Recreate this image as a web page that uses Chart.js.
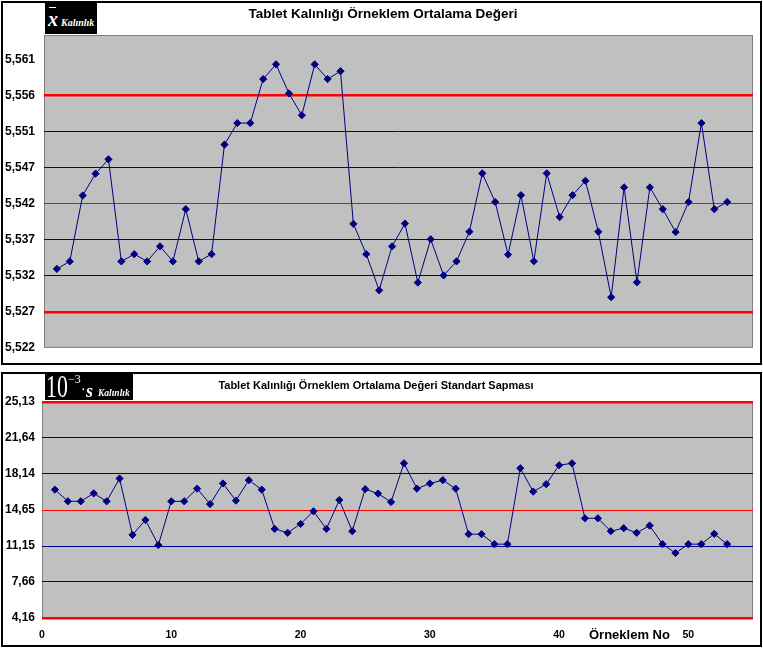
<!DOCTYPE html>
<html><head><meta charset="utf-8">
<script src="https://cdn.jsdelivr.net/npm/chart.js@4/dist/chart.umd.min.js"></script>
<style>
body{margin:0;background:#fff;width:763px;height:649px;position:relative;overflow:hidden;font-family:'Liberation Sans',Arial,sans-serif;}
.box{position:absolute;border:2px solid #000;box-sizing:border-box;}
canvas{position:absolute;left:0;}
.title{position:absolute;font-weight:bold;white-space:nowrap;color:#000;}
.blk{position:absolute;background:#000;}
.w{position:absolute;color:#fff;font-family:'Liberation Serif','Times New Roman',serif;white-space:nowrap;}
</style></head>
<body>
<div class="box" style="left:1px;top:1px;width:761px;height:364px"></div>
<div class="box" style="left:1px;top:372px;width:761px;height:275px"></div>
<canvas id="c1" width="763" height="364" style="top:0;width:763px;height:364px"></canvas>
<canvas id="c2" width="763" height="285" style="top:364px;width:763px;height:285px"></canvas>

<div class="title" style="left:0;width:766px;text-align:center;top:6.6px;font-size:13.5px;line-height:14px">Tablet Kalınlığı Örneklem Ortalama Değeri</div>
<div class="title" style="left:0;width:752px;text-align:center;top:378.5px;font-size:11px;line-height:12px">Tablet Kalınlığı Örneklem Ortalama Değeri Standart Sapması</div>
<div class="title" style="left:589px;top:628px;font-size:13px;line-height:13px">Örneklem No</div>

<div class="blk" style="left:45px;top:2px;width:52px;height:32px"></div>
<div style="position:absolute;left:49px;top:7px;width:7px;height:1px;background:#fff"></div>
<span class="w" style="left:48px;top:8.5px;font-size:20px;line-height:20px;font-style:italic;font-weight:bold">x</span>
<span class="w" style="left:61px;top:18.1px;font-size:10px;line-height:10px;font-style:italic;font-weight:bold">Kalınlık</span>

<div class="blk" style="left:45px;top:374px;width:88px;height:26px"></div>
<span class="w" style="left:45.5px;top:369.9px;font-size:32px;line-height:32px;transform:scaleX(0.68);transform-origin:left top">10</span>
<span class="w" style="left:68px;top:372.6px;font-size:12px;line-height:12px">−3</span>
<span class="w" style="left:81px;top:383px;font-size:14px;line-height:14px">·</span>
<span class="w" style="left:86px;top:381.6px;font-size:18px;line-height:18px;font-style:italic;font-weight:bold">s</span>
<span class="w" style="left:98px;top:388.5px;font-size:9.5px;line-height:9.5px;font-style:italic;font-weight:bold">Kalınlık</span>

<script>
// ---- data ----
const sampleNo = [1,2,3,4,5,6,7,8,9,10,11,12,13,14,15,16,17,18,19,20,21,22,23,24,25,26,27,28,29,30,
  31,32,33,34,35,36,37,38,39,40,41,42,43,44,45,46,47,48,49,50,51,52,53];

const xbarValues = [5.53292,5.53393,5.54280,5.54574,5.54767,5.53393,5.53490,5.53393,5.53595,5.53393,
  5.54096,5.53393,5.53490,5.54965,5.55255,5.55255,5.55847,5.56045,5.55654,5.55360,
  5.56045,5.55847,5.55953,5.53898,5.53490,5.53003,5.53595,5.53902,5.53108,5.53691,
  5.53204,5.53393,5.53793,5.54578,5.54192,5.53485,5.54284,5.53395,5.54578,5.53990,
  5.54284,5.54478,5.53793,5.52911,5.54389,5.53112,5.54389,5.54096,5.53788,5.54192,
  5.55255,5.54096,5.54192];

const sValues = [16.62,15.49,15.49,16.26,15.49,17.70,12.23,13.68,11.24,15.49,
  15.49,16.72,15.22,17.22,15.56,17.54,16.62,12.81,12.43,13.29,
  14.52,12.81,15.61,12.59,16.67,16.24,15.42,19.18,16.72,17.22,
  17.54,16.72,12.30,12.30,11.33,11.33,18.70,16.43,17.15,18.99,
  19.18,13.84,13.84,12.59,12.88,12.43,13.13,11.33,10.47,11.33,
  11.33,12.33,11.33];

const xbarTickValues = [5.5223,5.52715,5.5320,5.53685,5.5417,5.54655,5.5514,5.55625,5.5611];
const xbarTickLabels = ['5,522','5,527','5,532','5,537','5,542','5,547','5,551','5,556','5,561'];
const xbarLimits = {LCL:5.52715, CL:5.5417, UCL:5.55625};
const xbarRange = {min:5.5223, max:5.5644};

const sTickValues = [4.16,7.655,11.15,14.645,18.14,21.635,25.13];
const sTickLabels = ['4,16','7,66','11,15','14,65','18,14','21,64','25,13'];
const sLimits = {LCL:4.16, CL:14.645, UCL:25.13};
const sRange = {min:4.16, max:25.13};

const xTickValues = [0,10,20,30,40,50];
const xRange = {min:0, max:55};

// ---- drawing ----
const NAVY = '#000080', GRIDBLUE = '#000099', RED = '#FF0000';
const plotBg = {
  id:'plotBg',
  beforeDraw(chart){
    const {ctx, chartArea:a} = chart;
    ctx.save();
    ctx.fillStyle = '#C0C0C0';
    ctx.fillRect(a.left, a.top, a.right-a.left, a.bottom-a.top);
    ctx.strokeStyle = '#808080'; ctx.lineWidth = 1;
    ctx.strokeRect(a.left+0.5, a.top+0.5, a.right-a.left-1, a.bottom-a.top-1);
    ctx.restore();
  }
};

function near(a,b){ return Math.abs(a-b) < 1e-6; }
function gridStyle(lim){
  return {
    drawTicks:false,
    color: c => {
      const v = c.tick ? c.tick.value : NaN;
      if (near(v,lim.UCL) || near(v,lim.LCL) || near(v,lim.CL)) return RED;
      if (v > lim.UCL + 1e-6 || v < lim.LCL - 1e-6) return 'rgba(0,0,0,0)';
      return GRIDBLUE;
    },
    lineWidth: c => {
      const v = c.tick ? c.tick.value : NaN;
      if (near(v,lim.UCL) || near(v,lim.LCL)) return 2.5;
      return 1;
    }
  };
}

const tickFont = {family:"'Liberation Sans', Arial, sans-serif", size:12, weight:'bold'};

function makeChart(id, values, ticksV, ticksL, lim, range, opts){
  return new Chart(document.getElementById(id), {
    type:'line',
    data:{ datasets:[{
      data: sampleNo.map((n,i)=>({x:n, y:values[i]})),
      borderColor:NAVY, backgroundColor:NAVY, borderWidth:1,
      pointStyle:'rectRot', pointRadius:3.6, pointBorderWidth:1,
      pointBackgroundColor:NAVY, pointBorderColor:NAVY, tension:0
    }]},
    options:{
      responsive:false, animation:false, devicePixelRatio:1,
      layout:{padding:opts.padding},
      plugins:{legend:{display:false}, tooltip:{enabled:false}, title:{display:false}},
      scales:{
        x:{
          type:'linear', min:xRange.min, max:xRange.max, display:opts.showX,
          afterBuildTicks: s => { s.ticks = xTickValues.map(v=>({value:v})); },
          afterFit: s => { s.height = opts.xHeight; },
          grid:{display:false, drawTicks:false},
          border:{display:false},
          ticks:{autoSkip:false, padding:11, color:'#000', maxRotation:0,
                 font:{family:"'Liberation Sans', Arial, sans-serif", size:10.5, weight:'bold'}}
        },
        y:{
          type:'linear', min:range.min, max:range.max,
          afterBuildTicks: s => { s.ticks = ticksV.map(v=>({value:v})); },
          afterFit: s => { s.width = opts.yWidth; },
          grid: gridStyle(lim),
          border:{display:false},
          ticks:{autoSkip:false, padding:opts.yPad, color:'#000', font:tickFont,
                 callback:(v,i)=>ticksL[i]}
        }
      }
    },
    plugins:[plotBg]
  });
}

makeChart('c1', xbarValues, xbarTickValues, xbarTickLabels, xbarLimits, xbarRange,
  {padding:{top:35,right:10,bottom:10,left:0}, showX:false, xHeight:0, yWidth:44, yPad:9});
makeChart('c2', sValues, sTickValues, sTickLabels, sLimits, sRange,
  {padding:{top:38,right:10,bottom:7,left:0}, showX:true, xHeight:24, yWidth:42, yPad:7});
</script>
</body></html>
